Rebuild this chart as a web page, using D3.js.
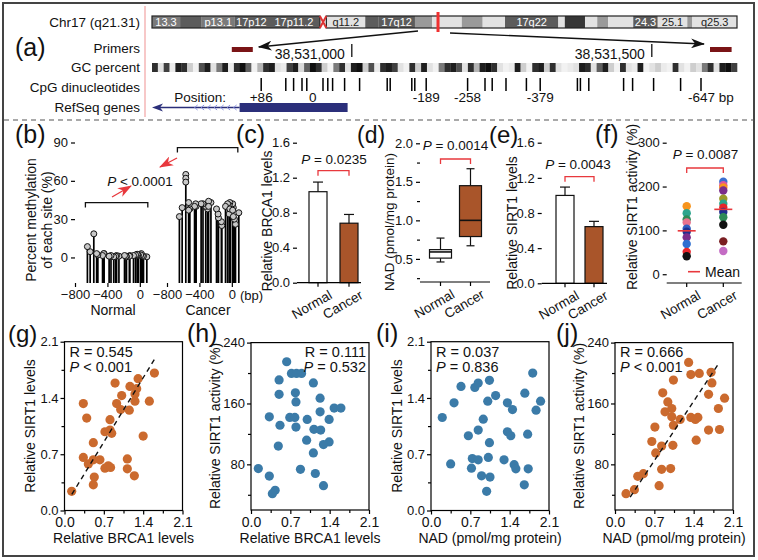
<!DOCTYPE html>
<html><head><meta charset="utf-8">
<script src="https://cdn.jsdelivr.net/npm/d3@7/dist/d3.min.js"></script>
<style>body{margin:0;background:#fff}svg{display:block}</style>
</head><body>
<svg id="c" width="758" height="560"></svg>
<script>
// ================= DATA =================
// (a) chromosome 17 ideogram (Mb)
const bandName  = ["13.3","","p13.1","17p12","17p11.2","","q11.2","","17q12","","","","","17q22","","","","","","24.3","25.1","","q25.3"];
const bandStart = [0,3.9,6.9,11.5,16.1,23.3,24.2,29.6,31.4,36.5,38.9,43.0,45.9,49.0,56.4,57.3,60.1,61.8,63.3,66.8,70.2,74.3,75.0];
const bandEnd   = [3.9,6.9,11.5,16.1,23.3,24.2,29.6,31.4,36.5,38.9,43.0,45.9,49.0,56.4,57.3,60.1,61.8,63.3,66.8,70.2,74.3,75.0,81.2];
const bandStain = [60,75,60,75,75,"acen",0,75,75,50,0,50,0,75,0,100,0,50,0,75,0,50,0];
const chrLength = 81.2;
const markerMb = 39.7;
// zoomed region (hg18 coordinates)
const regionStart = 38530667, regionEnd = 38531642, tssCoord = 38530935;
const coordTicks = [38531000, 38531500];
const primerStart = [38530800, 38531597];
const primerEnd   = [38530835, 38531633];
const gcPercent = [85,20,80,15,90,85,30,10,75,90,20,60,90,15,85,95,70,10,40,85,
                   90,20,15,80,90,25,70,95,85,30,10,60,85,20,90,95,30,75,15,85,
                   90,80,20,10,85,30,90,20,10,60,85,90,75,20,85,40,90,95,85,20,
                   10,15,90,30,10,85,90,30,85,20,10,15,20,90,85,20,70,90,30,10,
                   85,20,15,90,10,20,30,15,10,85,20,10,30,20,60,85,20,90,95,80];
const cpgSites = [86,45,32,18,10,-17,-25,-33,-53,-78,-124,-129,-165,-170,-189,-258,-287,-299,-322,-356,-379,-441,-446,-460,-518,-533,-568,-613,-647];
const cpgLabelSites = [86,0,-189,-258,-379,-647];
const geneExon = [38530813, 38530993];
const geneChevron = [38530738, 38530813];

// (b) methylation per CpG site (%), same order as cpgSites
const methNormal = [0.5,1,1.5,3,2,1.5,2,2.5,2,1.5,1.5,1,0.5,1,1.5,1,1.5,1,0.5,1.5,1,3,3,1.5,2,3,18.5,4.5,8.5];
const methCancer = [35,26,30,39,42,36,43,41,42,40,25,28,31,34,38,43,44,38,40,42,42,40,42,40,38,43,65,39,32];
const methCancerExtraSite = [-568,-568,-533,-287,-33,-25,10,18];
const methCancerExtraVal  = [62,59,37,40,34,38,37,32];
const bTicksY = [0,30,60,90];
const bTicksX = [-800,-400,0];

const groups = ["Normal","Cancer"];
// (c) BRCA1
const brcaMean = [1.04,0.68], brcaErr = [0.11,0.10];
// (d) NAD box plot
const nadMin = [0.46,0.67], nadQ1 = [0.51,0.79], nadMed = [0.59,1.0], nadQ3 = [0.62,1.45], nadMax = [0.77,1.67];
// (e) SIRT1
const sirtMean = [1.0,0.645], sirtErr = [0.095,0.06];
// (f) SIRT1 activity
const actNormal = [155,139,125,118,104,97,84,69,51,41];
const actCancer = [211,203,198,191,172,161,152,142,130,113,75,53];
const actMean = [99,148];
const levelTicks = [0,0.4,0.8,1.2,1.6];
const nadTicks = [0.5,1.0,1.5,2.0], nadMinor = [0.25,0.75,1.25,1.75];
const actTicks = [0,100,200,300];

// (g)-(j) correlations
const gX = [0.90,1.165,1.31,1.60,0.335,0.395,1.018,0.928,1.254,1.285,1.254,1.51,1.0,1.153,0.81,0.72,0.81,0.84,1.40,0.513,0.335,0.424,0.513,0.63,0.72,0.78,0.82,1.118,1.118,1.243,0.53,0.513,0.128];
const gY = [1.585,1.544,1.64,1.71,1.33,1.15,1.43,1.33,1.45,1.515,1.36,1.36,1.256,1.248,1.13,0.98,1.0,0.96,0.926,0.844,0.66,0.58,0.63,0.63,0.527,0.556,0.535,0.642,0.519,0.432,0.416,0.32,0.238];
const hX = [0.635,0.72,0.81,0.90,0.50,1.11,0.50,0.79,0.80,1.23,1.48,1.60,0.326,0.69,0.78,1.0,1.23,1.39,0.516,0.80,1.12,1.24,0.99,1.39,1.29,0.486,1.11,0.13,0.88,1.145,0.326,1.29,0.43,0.38];
const hY = [214.8,199.5,199.5,199.5,191,187,172,174,162,167,154,154,142.4,141.6,141.6,139,149,139,131.4,129,126,125,111.7,109.5,106,104,95,74.4,73.5,68,64.6,52,45.8,41.5];
const iX = [0.534,0.78,0.84,1.04,1.81,0.41,1.01,1.15,1.36,1.67,1.95,1.45,1.87,0.20,0.93,0.84,0.665,1.36,1.42,1.72,1.04,0.35,0.735,0.84,1.02,1.30,1.48,1.51,1.73,0.72,0.90,1.05,1.66,0.99];
const iY = [1.544,1.53,1.585,1.62,1.71,1.34,1.36,1.43,1.34,1.46,1.36,1.256,1.248,1.157,1.136,1.0,0.93,0.98,0.93,0.95,0.844,0.58,0.646,0.63,0.66,0.63,0.57,0.519,0.519,0.527,0.432,0.416,0.32,0.238];
const jX = [1.31,1.35,1.50,1.71,1.04,1.725,0.85,1.665,0.94,1.95,1.01,0.89,1.84,1.01,1.16,1.35,1.43,1.475,0.71,1.04,1.665,1.86,0.655,0.83,1.03,1.445,0.725,0.83,0.99,0.505,0.405,0.785,0.345,0.196];
const jY = [214,198,199.5,200.9,190.7,187,174,172,162,167,153.4,149,153.4,142.4,139,141.6,139,141.6,129,131.4,125,125.8,110,104,105,111.7,95,73.5,74.4,67.8,64.3,52,46.7,41.5];
const gFitX = [0.13,1.6], gFitY = [0.2,1.88];
const jFitX = [0.27,1.84], jFitY = [37,212];
const ratioTicks = [0,0.7,1.4,2.1], ratioMinor = [0.35,1.05,1.75];
const actRTicks = [80,160,240], actRMinor = [40,120,200];

// ================= STYLE =================
const F = '"Liberation Sans", Arial, Helvetica, sans-serif';
const BROWN = "#A9552A", ORANGE = "#CB6A2E", BLUE = "#3B7BA8", RED = "#E8383D";
const actNormalColor = ["#F7941D","#2CA58D","#2E8B57","#E8738E","#2F5DBF","#1F2F8F","#7B2D8B","#2F6FD0","#E8262B","#111111"];
const actCancerColor = ["#3A6FD0","#E0559A","#F7941D","#7B2D8B","#9A9A2A","#2CA58D","#E8262B","#1F2F8F","#2E8B57","#111111","#7A1E22","#C46CC4"];

const svg = d3.select("#c");
svg.append("rect").attr("width",758).attr("height",560).attr("fill","#fff");

function T(x,y,s,o={}){
  const t = svg.append("text").attr("x",x).attr("y",y).text(s)
    .attr("font-family",F).attr("font-size",o.fs||13).attr("fill",o.fill||"#111")
    .attr("text-anchor",o.anchor||"start");
  if(o.rot!==undefined){ t.attr("x",0).attr("y",0).attr("transform",`translate(${x},${y}) rotate(${o.rot})`); }
  return t;
}
function PT(x,y,rest,fs){ // italic P + rest
  const t = svg.append("text").attr("x",x).attr("y",y).attr("font-family",F).attr("font-size",fs||13)
    .attr("fill","#111").attr("text-anchor","middle");
  t.append("tspan").attr("font-style","italic").text("P");
  t.append("tspan").text(rest);
  return t;
}
function PTL(x,y,rest,fs,anchor){
  const t = svg.append("text").attr("x",x).attr("y",y).attr("font-family",F).attr("font-size",fs||14)
    .attr("fill","#111").attr("text-anchor",anchor||"start");
  t.append("tspan").attr("font-style","italic").text("P");
  t.append("tspan").text(rest);
  return t;
}
function L(x1,y1,x2,y2,c,w,dash){
  const l = svg.append("line").attr("x1",x1).attr("y1",y1).attr("x2",x2).attr("y2",y2)
    .attr("stroke",c||"#000").attr("stroke-width",w||1.2);
  if(dash) l.attr("stroke-dasharray",dash);
  return l;
}
function styleAxis(g,fs){
  g.attr("font-size",fs).attr("font-family",F);
  g.selectAll("path,line").attr("stroke","#000").attr("stroke-width",1.2);
  g.selectAll("text").attr("fill","#111");
}
function bracket(x1,x2,y,c){
  svg.append("path").attr("d",`M${x1},${y+5}V${y}H${x2}V${y+5}`).attr("fill","none")
    .attr("stroke",c||RED).attr("stroke-width",1.3);
}

// frame and separators
svg.append("rect").attr("x",3).attr("y",3).attr("width",751).attr("height",553)
  .attr("fill","none").attr("stroke","#444").attr("stroke-width",2);
L(4,120,754,120,"#555",1.2,"5,4");
L(145,6,145,117,"#F2A3A3",1.2);

// ================= (a) =================
T(15,56,"(a)",{fs:25});
[["Chr17 (q21.31)",27],["Primers",53],["GC percent",72],["CpG dinucleotides",92],["RefSeq genes",112]]
  .forEach(d=>T(140,d[1],d[0],{fs:13.5,anchor:"end"}));

const ideo = d3.scaleLinear().domain([0,chrLength]).range([152,737]);
const gray = d3.scaleLinear().domain([0,50,60,75,100]).range(["#e2e2e2","#9a9a9a","#7a7a7a","#5c5c5c","#363636"]);
bandName.forEach((n,i)=>{
  if(bandStain[i]==="acen") return;
  svg.append("rect").attr("x",ideo(bandStart[i])).attr("y",16)
    .attr("width",ideo(bandEnd[i])-ideo(bandStart[i])).attr("height",12).attr("fill",gray(bandStain[i]));
  if(n) T((ideo(bandStart[i])+ideo(bandEnd[i]))/2,26,n,{fs:11,anchor:"middle",fill:bandStain[i]>=50?"#fff":"#222"});
});
const cen = bandStain.indexOf("acen");
svg.append("rect").attr("x",ideo(0)).attr("y",16).attr("width",ideo(bandStart[cen])-ideo(0)).attr("height",12)
  .attr("fill","none").attr("stroke","#222").attr("stroke-width",1.2);
svg.append("rect").attr("x",ideo(bandEnd[cen])).attr("y",16).attr("width",ideo(chrLength)-ideo(bandEnd[cen])).attr("height",12)
  .attr("fill","none").attr("stroke","#222").attr("stroke-width",1.2);
const c0=ideo(bandStart[cen]), c1=ideo(bandEnd[cen]);
svg.append("path").attr("d",`M${c0},16L${c1},28M${c1},16L${c0},28`).attr("stroke","#D33").attr("stroke-width",2).attr("fill","none");
svg.append("rect").attr("x",ideo(markerMb)-1.5).attr("y",12).attr("width",3).attr("height",20).attr("fill","#F03030");

const gs = d3.scaleLinear().domain([regionStart,regionEnd]).range([152,737]);
// arrows
const defs = svg.append("defs");
function mk(id,c){
  defs.append("marker").attr("id",id).attr("viewBox","0 0 14 10").attr("refX",13).attr("refY",5)
   .attr("markerWidth",14).attr("markerHeight",10).attr("markerUnits","userSpaceOnUse").attr("orient","auto")
   .append("path").attr("d","M0,0L14,5L0,10L4,5Z").attr("fill",c);
}
mk("ab","#111"); mk("ar",RED);
L(ideo(markerMb)-20,31,gs(primerEnd[0])+6,47,"#111",1.3).attr("marker-end","url(#ab)");
L(ideo(markerMb)+12,33,gs(primerStart[1])-6,44,"#111",1.3).attr("marker-end","url(#ab)");
// primers
primerStart.forEach((s,i)=>svg.append("rect").attr("x",gs(s)).attr("y",47).attr("width",gs(primerEnd[i])-gs(s)).attr("height",5).attr("fill","#7A1416"));
// coordinates
coordTicks.forEach(c=>{ L(gs(c),44,gs(c),57,"#111",1.3); T(gs(c)-7,59,d3.format(",")(c),{fs:14,anchor:"end"}); });
// GC
const binW = (regionEnd-regionStart)/gcPercent.length;
gcPercent.forEach((v,i)=>svg.append("rect").attr("x",gs(regionStart+i*binW)).attr("y",63)
  .attr("width",gs(regionStart+(i+1)*binW)-gs(regionStart+i*binW)+0.3).attr("height",9)
  .attr("fill",d3.interpolateGreys(v/100)));
// CpG
cpgSites.forEach(b=>L(gs(tssCoord-b),78,gs(tssCoord-b),91,"#000",1.5));
cpgLabelSites.forEach((b,i)=>{
  const lab = b>0?"+"+b:String(b);
  if(i===cpgLabelSites.length-1) T(gs(tssCoord-b)-13,102,lab+" bp",{fs:13.5});
  else T(gs(tssCoord-b),102,lab,{fs:13.5,anchor:"middle"});
});
T(226,102,"Position:",{fs:13.5,anchor:"end"});
// gene
const gy=107.5;
L(gs(regionStart)+8,gy,gs(geneExon[0]),gy,"#2B2F7A",1.6);
svg.append("path").attr("d",`M${gs(regionStart)},${gy}L${gs(regionStart)+11},${gy-4}L${gs(regionStart)+8},${gy}L${gs(regionStart)+11},${gy+4}Z`).attr("fill","#2B2F7A");
for(let x=gs(geneChevron[0]); x<gs(geneChevron[1])-3; x+=6.5){
  svg.append("path").attr("d",`M${x+3},${gy-2.5}L${x},${gy}L${x+3},${gy+2.5}`).attr("stroke","#8C94E0").attr("fill","none").attr("stroke-width",1);
}
svg.append("rect").attr("x",gs(geneExon[0])).attr("y",103).attr("width",gs(geneExon[1])-gs(geneExon[0])).attr("height",9).attr("fill","#2B2F7A");

// ================= (b) =================
T(15,143,"(b)",{fs:25});
const yB = d3.scaleLinear().domain([-20,90]).range([283,142.5]);
const xBn = d3.scaleLinear().domain([-800,150]).range([75,152]);
const xBc = d3.scaleLinear().domain([-800,150]).range([167,244]);
styleAxis(svg.append("g").attr("transform","translate(75,0)").call(d3.axisLeft(yB).tickValues(bTicksY).tickSize(4).tickSizeOuter(0)),13);
styleAxis(svg.append("g").attr("transform","translate(0,283)").call(d3.axisBottom(xBn).tickValues(bTicksX).tickSize(4).tickSizeOuter(0)),13);
styleAxis(svg.append("g").attr("transform","translate(0,283)").call(d3.axisBottom(xBc).tickValues(bTicksX).tickSize(4).tickSizeOuter(0)),13);
function stems(xs,vals){
  cpgSites.forEach((b,i)=>L(xs(b),yB(-20),xs(b),yB(vals[i]),"#000",1.7));
}
stems(xBn,methNormal); stems(xBc,methCancer);
function dot(x,y){ svg.append("circle").attr("cx",x).attr("cy",y).attr("r",3).attr("fill","#c8c8c8").attr("stroke","#111").attr("stroke-width",1); }
cpgSites.forEach((b,i)=>dot(xBn(b),yB(methNormal[i])));
cpgSites.forEach((b,i)=>dot(xBc(b),yB(methCancer[i])));
methCancerExtraSite.forEach((b,i)=>dot(xBc(b),yB(methCancerExtraVal[i])));
bracket(xBn(d3.min(cpgSites))-2, xBn(d3.max(cpgSites))+1, yB(43), "#111");
bracket(xBc(d3.min(cpgSites))-2, xBc(d3.max(cpgSites))-1, yB(86), "#111");
PT(140,186," < 0.0001",13.5);
L(112,197,131,186,RED,1.3).attr("marker-end","url(#ar)");
L(177,158,160,167,RED,1.3).attr("marker-end","url(#ar)");
T(113,315,"Normal",{fs:14,anchor:"middle"});
T(208,315,"Cancer",{fs:14,anchor:"middle"});
T(240,300,"(bp)",{fs:13});
T(36,220,"Percent methylation",{fs:14,anchor:"middle",rot:-90});
T(52,220,"of each site (%)",{fs:14,anchor:"middle",rot:-90});

// ============ helpers for (c)-(f) =============
function catAxes(ax, axEnd, yS, ticks, fmt, xS, yBase){
  styleAxis(svg.append("g").attr("transform",`translate(${ax},0)`).call(d3.axisLeft(yS).tickValues(ticks).tickFormat(fmt).tickSize(4).tickSizeOuter(0)),13);
  L(ax,yBase,axEnd,yBase,"#000",1.2);
  groups.forEach(g=>{
    L(xS(g),yBase,xS(g),yBase+4,"#000",1.2);
    T(xS(g)+15,yBase+15,g,{fs:13.5,anchor:"end",rot:-30});
  });
}
function barPanel(xS, yS, mean, err){
  groups.forEach((g,i)=>{
    const bw=18;
    svg.append("rect").attr("x",xS(g)-bw/2).attr("y",yS(mean[i])).attr("width",bw).attr("height",yS(0)-yS(mean[i]))
      .attr("fill",i===0?"#fff":BROWN).attr("stroke","#111").attr("stroke-width",1.2);
    L(xS(g),yS(mean[i]),xS(g),yS(mean[i]+err[i]),"#111",1.2);
    L(xS(g)-5,yS(mean[i]+err[i]),xS(g)+5,yS(mean[i]+err[i]),"#111",1.2);
  });
}

// ================= (c) =================
T(236,143,"(c)",{fs:25});
const yC = d3.scaleLinear().domain([0,1.6]).range([282.7,142.7]);
const xC = d3.scalePoint().domain(groups).range([318,349]);
barPanel(xC,yC,brcaMean,brcaErr);
catAxes(297,361,yC,levelTicks,d3.format(".1f"),xC,282.7);
PT(334,164," = 0.0235",13.5);
bracket(xC("Normal"),xC("Cancer"),170.7);
T(272,221,"Relative BRCA1 levels",{fs:14,anchor:"middle",rot:-90});

// ================= (d) =================
T(357,143,"(d)",{fs:23});
const yD = d3.scaleLinear().domain([0.2,2.0]).range([282,143.3]);
const xD = d3.scalePoint().domain(groups).range([440.5,470.5]);
styleAxis(svg.append("g").attr("transform","translate(420,0)").call(d3.axisLeft(yD).tickValues(nadMinor).tickFormat("").tickSize(3).tickSizeOuter(0)),13);
groups.forEach((g,i)=>{
  const bw=22, cx=xD(g);
  L(cx,yD(nadQ3[i]),cx,yD(nadMax[i]),"#111",1.2);
  L(cx,yD(nadQ1[i]),cx,yD(nadMin[i]),"#111",1.2);
  L(cx-4,yD(nadMax[i]),cx+4,yD(nadMax[i]),"#111",1.2);
  L(cx-4,yD(nadMin[i]),cx+4,yD(nadMin[i]),"#111",1.2);
  svg.append("rect").attr("x",cx-bw/2).attr("y",yD(nadQ3[i])).attr("width",bw).attr("height",yD(nadQ1[i])-yD(nadQ3[i]))
    .attr("fill",i===0?"#fff":BROWN).attr("stroke","#111").attr("stroke-width",1.2);
  L(cx-bw/2,yD(nadMed[i]),cx+bw/2,yD(nadMed[i]),"#111",1.6);
});
catAxes(420,490,yD,nadTicks,d3.format(".1f"),xD,282);
PT(455.5,150," = 0.0014",13.5);
bracket(xD("Normal"),xD("Cancer"),159);
T(394,222,"NAD (pmol/mg protein)",{fs:13.5,anchor:"middle",rot:-90});

// ================= (e) =================
T(489,143,"(e)",{fs:24});
const yE = d3.scaleLinear().domain([0,1.6]).range([283.3,142.7]);
const xE = d3.scalePoint().domain(groups).range([565,594]);
barPanel(xE,yE,sirtMean,sirtErr);
catAxes(541.7,607,yE,levelTicks,d3.format(".1f"),xE,283.3);
PT(578,169," = 0.0043",13.5);
bracket(xE("Normal"),xE("Cancer"),176.7);
T(517,223,"Relative SIRT1 levels",{fs:14,anchor:"middle",rot:-90});

// ================= (f) =================
T(595,143,"(f)",{fs:25});
const yF = d3.scaleLinear().domain([-20,300]).range([283,142.7]);
const xF = d3.scalePoint().domain(groups).range([686.7,723.3]);
catAxes(666.7,741.7,yF,actTicks,d3.format("d"),xF,283);
actNormal.forEach((v,i)=>svg.append("circle").attr("cx",xF("Normal")).attr("cy",yF(v)).attr("r",4.2).attr("fill",actNormalColor[i]));
actCancer.forEach((v,i)=>svg.append("circle").attr("cx",xF("Cancer")).attr("cy",yF(v)).attr("r",4.2).attr("fill",actCancerColor[i]));
groups.forEach((g,i)=>L(xF(g)-9,yF(actMean[i]),xF(g)+9,yF(actMean[i]),RED,1.6));
PT(705.5,159," = 0.0087",13.5);
bracket(xF("Normal"),xF("Cancer"),168);
L(688,271.7,700,271.7,RED,1.6);
T(705,277,"Mean",{fs:14});
T(637,207,"Relative SIRT1 activity (%)",{fs:14,anchor:"middle",rot:-90});

// ================= (g)-(j) =================
function scatter(o){
  const x = d3.scaleLinear().domain([0,2.1]).range([o.x0,o.x1]);
  const y = d3.scaleLinear().domain(o.yDom).range([o.y1,o.y0]);
  svg.append("rect").attr("x",o.x0).attr("y",o.y0).attr("width",o.x1-o.x0).attr("height",o.y1-o.y0)
    .attr("fill","none").attr("stroke","#000").attr("stroke-width",1.2);
  styleAxis(svg.append("g").attr("transform",`translate(0,${o.y1})`).call(d3.axisBottom(x).tickValues(ratioTicks).tickFormat(d3.format(".1f")).tickSize(4).tickSizeOuter(0)),14);
  styleAxis(svg.append("g").attr("transform",`translate(0,${o.y1})`).call(d3.axisBottom(x).tickValues(ratioMinor).tickFormat("").tickSize(3).tickSizeOuter(0)),14);
  styleAxis(svg.append("g").attr("transform",`translate(${o.x0},0)`).call(d3.axisLeft(y).tickValues(o.yT).tickFormat(o.fmt).tickSize(4).tickPadding(2).tickSizeOuter(0)),13);
  styleAxis(svg.append("g").attr("transform",`translate(${o.x0},0)`).call(d3.axisLeft(y).tickValues(o.yM).tickFormat("").tickSize(3).tickSizeOuter(0)),13);
  svg.selectAll(".domain").attr("stroke","none");
  o.xs.forEach((v,i)=>svg.append("circle").attr("cx",x(v)).attr("cy",y(o.ys[i])).attr("r",4.6).attr("fill",o.color));
  if(o.fx) L(x(o.fx[0]),y(o.fy[0]),x(o.fx[1]),y(o.fy[1]),"#111",1.4,"5,4");
  T(o.lx,342,o.label,{fs:o.lfs||25});
  T((o.x0+o.x1)/2,543,o.xlab,{fs:14,anchor:"middle"});
  T(o.ylx,426,o.ylab,{fs:14,anchor:"middle",rot:-90});
  const anchor = o.right?"end":"start", tx = o.right?o.x1-3:o.x0+5;
  T(tx,357,o.r,{fs:14.5,anchor});
  PTL(tx,372,o.p,14.5,anchor);
}
scatter({x0:64.5,x1:182.5,y0:341.7,y1:510.5,yDom:[0,2.1],yT:ratioTicks,yM:ratioMinor,fmt:d3.format(".1f"),
  xs:gX,ys:gY,color:ORANGE,fx:gFitX,fy:gFitY,label:"(g)",lx:8,lfs:24,xlab:"Relative BRCA1 levels",ylab:"Relative SIRT1 levels",ylx:35,
  r:"R = 0.545",p:" < 0.001"});
scatter({x0:251,x1:369,y0:342.6,y1:510,yDom:[20,240],yT:actRTicks,yM:actRMinor,fmt:d3.format("d"),
  xs:hX,ys:hY,color:BLUE,label:"(h)",lx:187,xlab:"Relative BRCA1 levels",ylab:"Relative SIRT1 activity (%)",ylx:220,
  r:"R = 0.111",p:" = 0.532",right:true});
scatter({x0:431,x1:549,y0:341.7,y1:510.5,yDom:[0,2.1],yT:ratioTicks,yM:ratioMinor,fmt:d3.format(".1f"),
  xs:iX,ys:iY,color:BLUE,label:"(i)",lx:376,xlab:"NAD (pmol/mg protein)",ylab:"Relative SIRT1 levels",ylx:402,
  r:"R = 0.037",p:" = 0.836"});
scatter({x0:615,x1:733,y0:342.6,y1:510,yDom:[20,240],yT:actRTicks,yM:actRMinor,fmt:d3.format("d"),
  xs:jX,ys:jY,color:ORANGE,fx:jFitX,fy:jFitY,label:"(j)",lx:556,xlab:"NAD (pmol/mg protein)",ylab:"Relative SIRT1 activity (%)",ylx:584,
  r:"R = 0.666",p:" < 0.001"});
</script>
</body></html>
